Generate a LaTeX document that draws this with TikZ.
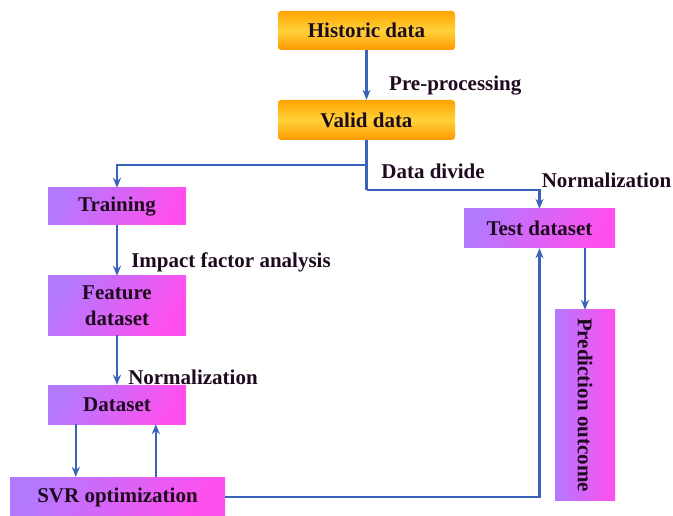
\documentclass[tikz,border=0pt]{standalone}
\usepackage{fontspec}
\setmainfont{Liberation Serif}
\usetikzlibrary{arrows.meta,calc}
\definecolor{lineblue}{HTML}{3A62B8}
\definecolor{orgA}{HTML}{FFA400}
\definecolor{orgB}{HTML}{FFD23A}
\definecolor{orgC}{HTML}{FF9800}
\definecolor{purA}{HTML}{B478FF}
\definecolor{purB}{HTML}{FF50EE}
\definecolor{txt}{HTML}{1E0A1E}
\tikzset{
  lbl/.style={font=\fontsize{21}{24}\selectfont\bfseries, text=txt, inner sep=0pt},
  orangebox/.style={lbl, rounded corners=3pt, top color=orgA, bottom color=orgC, middle color=orgB, minimum width=177pt, minimum height=39pt},
  purplebox/.style={lbl, shading=axis, left color=purA, right color=purB, shading angle=60, align=center},
  arr/.style={draw=lineblue, line width=2.5pt, -{Stealth[length=10pt,width=8pt]}},
  ln/.style={draw=lineblue, line width=2.5pt},
}
\begin{document}
\begin{tikzpicture}[x=1pt,y=-1pt]
\useasboundingbox[fill=white] (0,0) rectangle (673,516);
\node[orangebox] (hist) at (366.5,30.5) {Historic data};
\node[orangebox, minimum height=40pt] (valid) at (366.5,120) {Valid data};
\node[purplebox, minimum width=138pt, minimum height=37pt] (train) at (117,206.5) {Training};
\node[purplebox, minimum width=138pt, minimum height=59pt] (feat) at (117,305.5) {Feature\\[2pt]dataset};
\node[purplebox, minimum width=138pt, minimum height=39pt] (dset) at (117,404.5) {Dataset};
\node[purplebox, minimum width=215pt, minimum height=40pt] (svr) at (117.5,497) {SVR optimization};
\node[purplebox, minimum width=151pt, minimum height=39pt] (test) at (539.5,228.5) {Test dataset};
\node[lbl, shading=axis, left color=purB, right color=purA, shading angle=-90, minimum width=60pt, minimum height=190pt] (pred) at (585,405) {};
\node[lbl, rotate=-90] (predtxt) at (pred.center) {Prediction outcome};

\coordinate (split) at (366.5,165);
\coordinate (turn) at (366.5,190);

\draw[arr] (hist) -- (valid);
\draw[ln] (valid.south) -- (turn);
\draw[arr] (turn) -| (test.north);
\draw[arr] (split) -| (train.north);
\draw[arr] (train) -- (feat);
\draw[arr] (feat) -- (dset);
\draw[arr] ([xshift=28pt]dset.south west) -- ([xshift=28pt]dset.south west |- svr.north);
\draw[arr] ([xshift=108pt]dset.south west |- svr.north) -- ([xshift=108pt]dset.south west);
\draw[arr] (svr.east) -| (test.south);
\draw[arr] (test.south -| pred.north) -- (pred.north);

\node[lbl, anchor=west] (pp) at (389,86) {Pre-processing};
\node[lbl] (dd) at (433,171) {Data divide};
\node[lbl] (n1) at (606.5,180) {Normalization};
\node[lbl] (ifa) at (231,262) {Impact factor analysis};
\node[lbl] (n2) at (193,377) {Normalization};
\end{tikzpicture}
\end{document}
